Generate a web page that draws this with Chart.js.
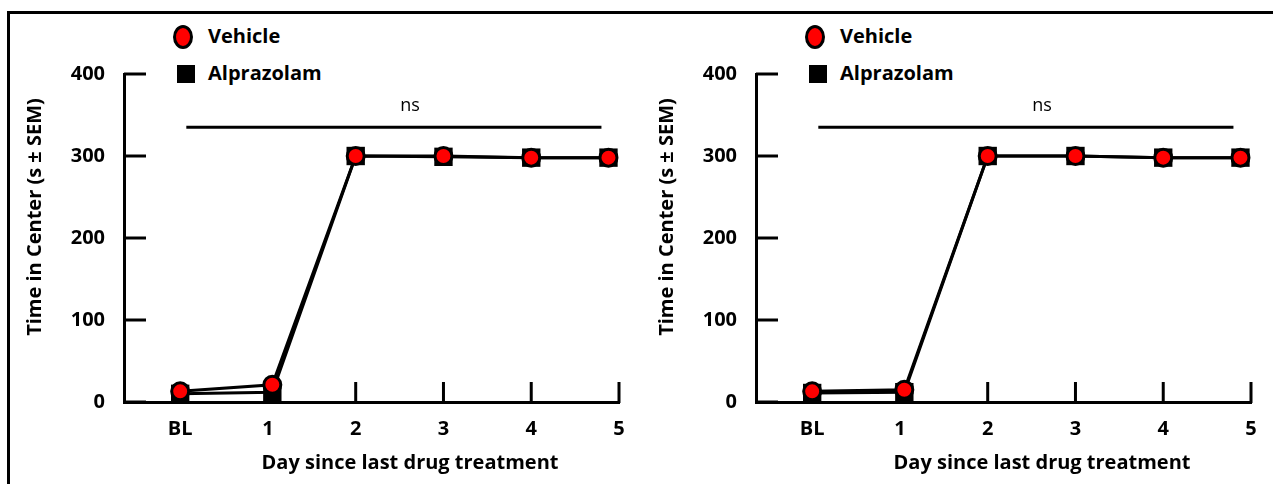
<!DOCTYPE html>
<html>
<head>
<meta charset="utf-8">
<script src="https://cdn.jsdelivr.net/npm/chart.js@4.4.1/dist/chart.umd.min.js"></script>
<style>
  html, body { margin: 0; padding: 0; background: #fff; }
  body { width: 1273px; height: 484px; position: relative; overflow: hidden; font-family: "Open Sans", sans-serif; }
  #frame { position: absolute; left: 7px; top: 11px; right: -10px; bottom: -10px; border-top: 3px solid #000; border-left: 3px solid #000; }
  .panel { position: absolute; top: 0; width: 632px; height: 484px; }
  .panel canvas { position: absolute; left: 0; top: 0; }
  .lg { position: absolute; left: 208px; font-weight: bold; font-size: 20px; line-height: 24px; color: #000; white-space: nowrap; }
  .lg-circle { position: absolute; width: 14px; height: 18px; border: 3px solid #000; border-radius: 50%; background: #ff0000; }
  .lg-square { position: absolute; width: 18px; height: 18px; background: #000; }
</style>
</head>
<body>
<div id="frame"></div>

<div class="panel" style="left:0px">
  <div class="lg-circle" style="left:173px; top:25px"></div>
  <div class="lg" style="top:24px">Vehicle</div>
  <div class="lg-square" style="left:177px; top:65px"></div>
  <div class="lg" style="top:61px">Alprazolam</div>
  <canvas id="chartA" width="632" height="484"></canvas>
</div>

<div class="panel" style="left:632px">
  <div class="lg-circle" style="left:173px; top:25px"></div>
  <div class="lg" style="top:24px">Vehicle</div>
  <div class="lg-square" style="left:177px; top:65px"></div>
  <div class="lg" style="top:61px">Alprazolam</div>
  <canvas id="chartB" width="632" height="484"></canvas>
</div>

<script>
// x categories and where each day's points sit on the axis
const dayLabels = ['BL', '1', '2', '3', '4', '5'];
const dayX = [0, 1.05, 2, 3, 4, 4.88];

// left panel
const vehicleA = [13, 21, 300, 300, 298, 298];
const alprazolamA = [10, 12, 300, 299, 298, 298];

// right panel
const vehicleB = [13, 15, 300, 300, 298, 298];
const alprazolamB = [11, 12, 300, 300, 298, 298];

const yTicks = [0, 100, 200, 300, 400];

// "ns" bracket over the days
const nsFrom = 0.07, nsTo = 4.8, nsY = 335;

const FONT = '"Open Sans", sans-serif';

function pts(vals) {
  return vals.map((v, i) => ({ x: dayX[i], y: v }));
}

const figurePlugin = {
  id: 'figure',
  beforeDatasetsDraw(chart) {
    const { ctx, chartArea, scales } = chart;
    const x = scales.x, y = scales.y;
    ctx.save();
    ctx.strokeStyle = '#000';
    ctx.lineWidth = 3;
    ctx.lineCap = 'butt';
    // y ticks pointing into the plot
    yTicks.forEach(v => {
      const py = y.getPixelForValue(v);
      ctx.beginPath();
      ctx.moveTo(chartArea.left, py);
      ctx.lineTo(chartArea.left + 22, py);
      ctx.stroke();
    });
    // x ticks pointing up
    dayLabels.forEach((l, i) => {
      const px = x.getPixelForValue(i);
      ctx.beginPath();
      ctx.moveTo(px, chartArea.bottom + 1);
      ctx.lineTo(px, chartArea.bottom - 20);
      ctx.stroke();
    });
    ctx.restore();
  },
  afterDraw(chart) {
    const { ctx, chartArea, scales } = chart;
    const x = scales.x, y = scales.y;
    ctx.save();
    // ns line
    ctx.strokeStyle = '#000';
    ctx.lineWidth = 3;
    ctx.beginPath();
    ctx.moveTo(x.getPixelForValue(nsFrom), y.getPixelForValue(nsY));
    ctx.lineTo(x.getPixelForValue(nsTo), y.getPixelForValue(nsY));
    ctx.stroke();
    ctx.fillStyle = '#000';
    ctx.textAlign = 'center';
    ctx.textBaseline = 'middle';
    ctx.font = '18px ' + FONT;
    ctx.fillText('ns', chartArea.left + 286, chartArea.top + 32);
    // axis titles
    ctx.font = 'bold 20px ' + FONT;
    ctx.fillText('Day since last drug treatment', chartArea.left + 286, chartArea.bottom + 61);
    ctx.translate(chartArea.left - 89, chartArea.top + 143);
    ctx.rotate(-Math.PI / 2);
    ctx.fillText('Time in Center (s \u00b1 SEM)', 0, 0);
    ctx.restore();
  }
};

function makePanel(id, vehicle, alprazolam) {
  return new Chart(document.getElementById(id), {
    type: 'line',
    data: {
      datasets: [
        {
          label: 'Vehicle',
          data: pts(vehicle),
          borderColor: '#000',
          borderWidth: 3,
          pointStyle: 'circle',
          pointRadius: 8.5,
          pointBackgroundColor: '#ff0000',
          pointBorderColor: '#000',
          pointBorderWidth: 3,
          order: 0,
          clip: false
        },
        {
          label: 'Alprazolam',
          data: pts(alprazolam),
          borderColor: '#000',
          borderWidth: 3,
          pointStyle: 'rect',
          pointRadius: 13,
          pointBackgroundColor: '#000',
          pointBorderColor: '#000',
          pointBorderWidth: 0,
          order: 1,
          clip: false
        }
      ]
    },
    options: {
      responsive: false,
      animation: false,
      events: [],
      layout: { padding: { left: 0, right: 12, top: 74, bottom: 0 } },
      plugins: { legend: { display: false }, tooltip: { enabled: false } },
      scales: {
        x: {
          type: 'linear',
          min: -0.64,
          max: 5,
          grid: { display: false },
          border: { display: true, color: '#000', width: 3 },
          afterBuildTicks: s => { s.ticks = dayLabels.map((l, i) => ({ value: i })); },
          afterFit: s => { s.height = 82; },
          ticks: {
            color: '#000',
            padding: 7,
            maxRotation: 0,
            autoSkip: false,
            font: { family: FONT, size: 20, weight: 'bold' },
            callback: v => dayLabels[v]
          }
        },
        y: {
          min: 0,
          max: 400,
          grid: { display: false },
          border: { display: true, color: '#000', width: 3 },
          afterBuildTicks: s => { s.ticks = yTicks.map(v => ({ value: v })); },
          afterFit: s => { s.width = 124; },
          ticks: {
            color: '#000',
            padding: 11,
            font: { family: FONT, size: 20, weight: 'bold' }
          }
        }
      }
    },
    plugins: [figurePlugin]
  });
}

makePanel('chartA', vehicleA, alprazolamA);
makePanel('chartB', vehicleB, alprazolamB);
</script>
</body>
</html>
